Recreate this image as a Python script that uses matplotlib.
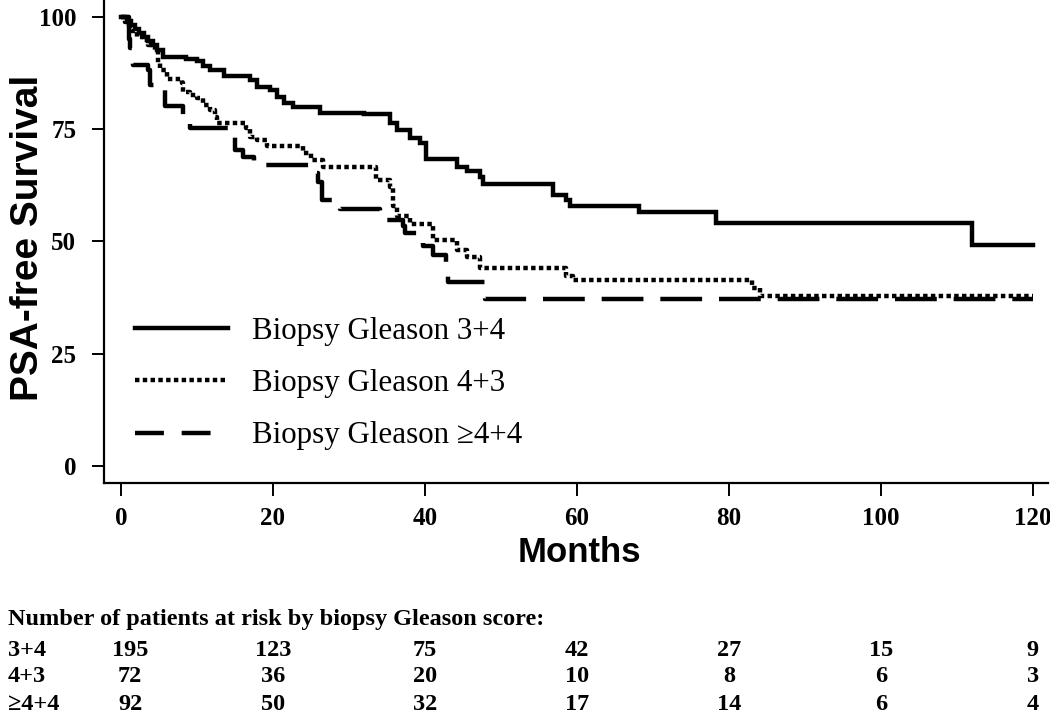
import matplotlib
matplotlib.use('Agg')
import matplotlib.pyplot as plt
from matplotlib.lines import Line2D
from matplotlib.transforms import blended_transform_factory

# Kaplan-Meier steps (months, % PSA-free)
months_34 = [0, 0.8, 1.3, 1.8, 2.4, 3.0, 3.6, 4.2, 4.8, 5.5, 8.6, 10.0, 10.8, 11.7, 13.5,
             17.0, 17.9, 19.6, 20.5, 21.4, 22.7, 26.2, 32.0, 35.4, 36.3, 38.0, 39.3, 40.2,
             44.2, 45.5, 47.2, 47.7, 56.9, 58.6, 59.1, 68.2, 78.3, 112.0, 120]
surv_34 = [100, 99.2, 98.3, 97.4, 96.5, 95.6, 94.7, 93.7, 92.6, 91.2, 90.6, 90.1, 89.2, 88.2, 86.9,
           86.0, 84.5, 83.7, 82.2, 80.8, 80.0, 78.6, 78.3, 76.3, 74.8, 73.0, 71.9, 68.3,
           66.7, 65.6, 64.4, 62.7, 60.4, 59.2, 57.9, 56.5, 54.2, 49.1, 49.1]

months_43 = [0, 0.5, 1.0, 1.5, 2.1, 2.9, 3.5, 4.5, 4.9, 5.1, 6.0, 8.0, 8.2, 9.1, 10.0, 10.8,
             11.7, 12.4, 12.6, 16.5, 17.0, 17.9, 19.2, 24.0, 25.0, 26.6, 33.6, 35.4, 35.8,
             36.3, 38.0, 41.1, 44.2, 45.5, 47.2, 58.6, 59.5, 83.0, 84.1, 120]
surv_43 = [100, 99.0, 98.0, 97.0, 95.6, 94.9, 93.7, 92.6, 89.7, 88.2, 86.3, 85.2, 83.4, 82.6, 81.9, 80.4,
           79.3, 77.8, 76.5, 75.2, 73.3, 72.6, 71.3, 69.7, 68.2, 66.6, 63.7, 62.2, 57.8,
           55.6, 53.9, 50.3, 48.1, 46.6, 44.0, 42.2, 41.3, 39.6, 37.9, 37.9]

months_44 = [0, 1.0, 1.1, 1.2, 1.4, 1.6, 3.6, 3.8, 5.0, 5.8, 8.2, 9.1, 14.8, 15.0, 16.1, 17.5,
             25.1, 25.9, 26.4, 28.8, 34.1, 37.1, 37.4, 39.8, 41.1, 42.8, 43.1, 47.9, 120]
surv_44 = [100, 97.5, 95.0, 93.0, 91.0, 89.3, 88.2, 84.9, 83.7, 80.1, 78.0, 75.3, 74.1, 70.4, 68.9, 67.0,
           65.2, 63.3, 59.2, 57.3, 54.8, 53.4, 51.8, 48.9, 47.0, 44.0, 41.0, 37.2, 37.2]

labels = ['Biopsy Gleason 3+4', 'Biopsy Gleason 4+3', 'Biopsy Gleason \u22654+4']

# numbers at risk
risk_months = [0, 20, 40, 60, 80, 100, 120]
risk_groups = ['3+4', '4+3', '\u22654+4']
risk_34 = [195, 123, 75, 42, 27, 15, 9]
risk_43 = [72, 36, 20, 10, 8, 6, 3]
risk_44 = [92, 50, 32, 17, 14, 6, 4]

serif = 'Liberation Serif'
sans = 'Liberation Sans'

fig = plt.figure(figsize=(10.5, 7.24), dpi=100)
ax = fig.add_axes([0.099, 0.333, 0.899, 0.667])

lw = 3.2
dot_style = (0, (1.0, 0.75))
dash_style = (0, (9.4, 3.8))

ax.step(months_34, surv_34, where='post', color='black', lw=lw, solid_joinstyle='miter')
ax.step(months_43, surv_43, where='post', color='black', lw=lw, linestyle=dot_style)
ax.step(months_44, surv_44, where='post', color='black', lw=lw, linestyle=dash_style)

ax.set_xlim(-2.24, 122)
ax.set_ylim(-3.8, 103.8)
ax.set_xticks(risk_months)
ax.set_yticks([0, 25, 50, 75, 100])

for side in ['top', 'right']:
    ax.spines[side].set_visible(False)
for side in ['left', 'bottom']:
    ax.spines[side].set_linewidth(1.6)

ax.tick_params(axis='both', direction='out', length=9, width=1.4, color='black')
ax.tick_params(axis='y', pad=11)
ax.tick_params(axis='x', pad=8)
for lab in ax.get_xticklabels() + ax.get_yticklabels():
    lab.set_fontfamily(serif)
    lab.set_fontweight('bold')
    lab.set_fontsize(18)

fig.text(28 / 1050, 1 - 238 / 724, 'PSA-free Survival', rotation=90, ha='center', va='center',
         fontfamily=sans, fontweight='bold', fontsize=28)
fig.text(579 / 1050, 1 - 553 / 724, 'Months', ha='center', va='center',
         fontfamily=sans, fontweight='bold', fontsize=25)

# legend handles get shorter dashes than the curves, as in the original
handles = [Line2D([], [], color='black', lw=lw),
           Line2D([], [], color='black', lw=lw, linestyle=dot_style),
           Line2D([], [], color='black', lw=lw, linestyle=(0, (6.5, 4.0)))]
ax.legend(handles, labels, loc='upper left', bbox_to_anchor=(135 / 1050, 1 - 317 / 724),
          bbox_transform=fig.transFigure, frameon=False, borderpad=0, borderaxespad=0,
          handlelength=3.0, handletextpad=0.77, labelspacing=0.75,
          prop={'family': serif, 'size': 22.3})

# table of patients at risk under the axis
fig.text(8 / 1050, 1 - 619 / 724, 'Number of patients at risk by biopsy Gleason score:',
         ha='left', va='center', fontfamily=serif, fontweight='bold', fontsize=17.5)

trans = blended_transform_factory(ax.transData, fig.transFigure)
row_y = [1 - 650 / 724, 1 - 677 / 724, 1 - 704 / 724]
for group, counts, y in zip(risk_groups, [risk_34, risk_43, risk_44], row_y):
    fig.text(8 / 1050, y, group, ha='left', va='center', fontfamily=serif,
             fontweight='bold', fontsize=17.5)
    for m, n in zip(risk_months, counts):
        ax.text(m + 1.2 if m == 0 else m, y, str(n), transform=trans, ha='center', va='center',
                fontfamily=serif, fontweight='bold', fontsize=17.5, clip_on=False)

fig.savefig('out.png', dpi=100)
